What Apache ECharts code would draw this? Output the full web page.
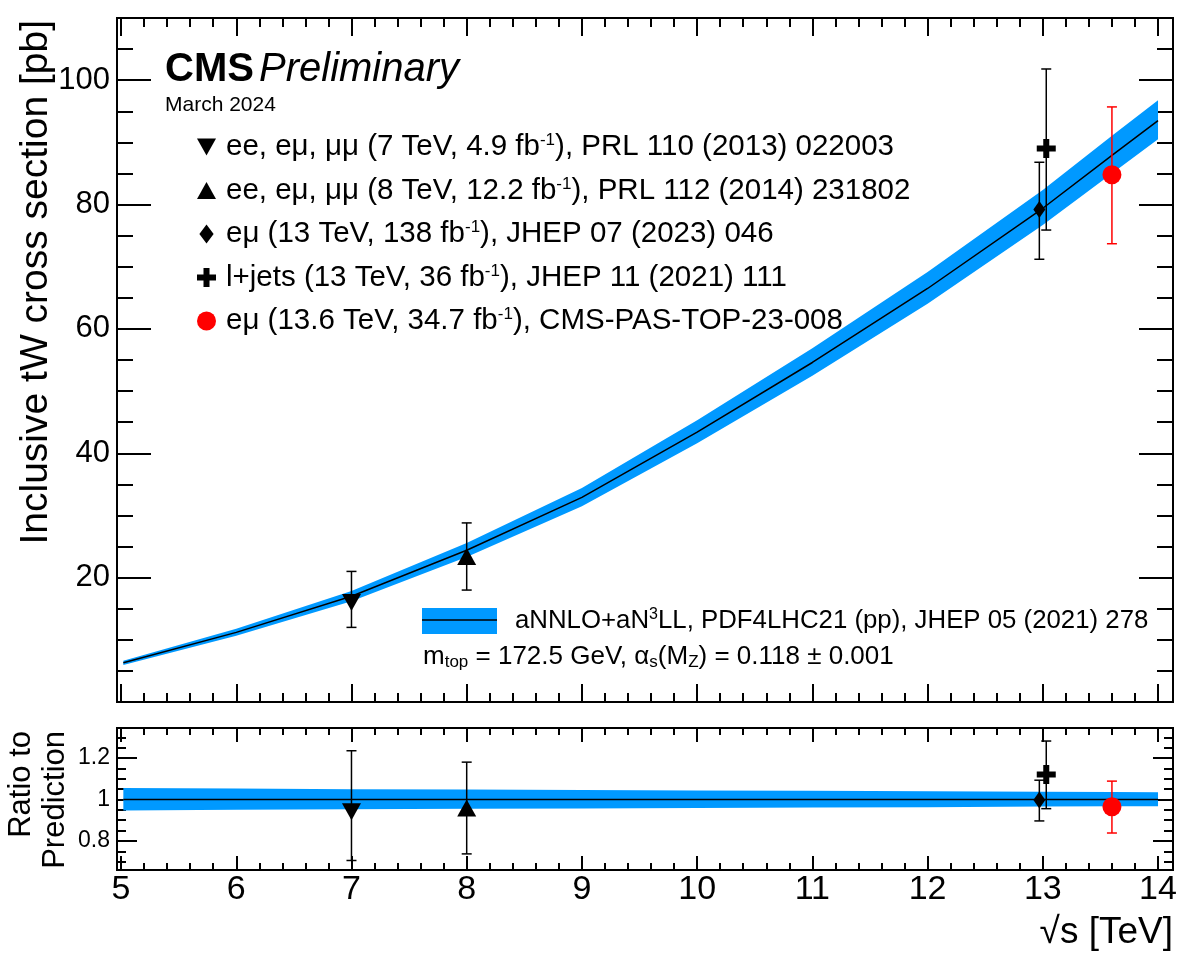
<!DOCTYPE html>
<html><head><meta charset="utf-8">
<script src="https://cdn.jsdelivr.net/npm/echarts@6/dist/echarts.min.js"></script>
<style>html,body{margin:0;padding:0;background:#fff}#c{width:1181px;height:961px}</style>
</head><body><div id="c"></div>
<script>
// ---------------- data ----------------
const theoryX   = [5.02, 6, 7, 8, 9, 10, 11, 12, 13, 13.6, 14];
const theoryY   = [6.3, 11.2, 17.0, 24.4, 32.9, 43.4, 54.6, 66.5, 79.4, 87.9, 93.5];
const theoryUp  = [0.35, 0.59, 0.85, 1.17, 1.51, 1.91, 2.29, 2.66, 2.94, 3.16, 3.27];
const theoryDn  = [0.33, 0.55, 0.79, 1.10, 1.41, 1.78, 2.13, 2.46, 2.70, 2.90, 2.99];
const theoryName = 'aNNLO+aN3LL, PDF4LHC21 (pp), JHEP 05 (2021) 278';

const measNames = [
  'ee, eμ, μμ (7 TeV, 4.9 fb-1), PRL 110 (2013) 022003',
  'ee, eμ, μμ (8 TeV, 12.2 fb-1), PRL 112 (2014) 231802',
  'eμ (13 TeV, 138 fb-1), JHEP 07 (2023) 046',
  'l+jets (13 TeV, 36 fb-1), JHEP 11 (2021) 111',
  'eμ (13.6 TeV, 34.7 fb-1), CMS-PAS-TOP-23-008'
];
const measX      = [7, 8, 12.97, 13.03, 13.6];
const measY      = [16, 23.4, 79.2, 89, 84.8];
const measErrUp  = [5, 5.4, 7.6, 12.8, 10.9];
const measErrDn  = [4, 5.4, 8.0, 13.1, 11.1];
const predAtMeas = [17.0, 24.4, 79.4, 79.4, 87.9];

const xMajorTicks = [5, 6, 7, 8, 9, 10, 11, 12, 13, 14];
const xTickLabels = [5, 6, 7, 8, 9, 10, 11, 12, 13, 14];
const yMajorTicks = [0, 20, 40, 60, 80, 100];
const yTickLabels = [20, 40, 60, 80, 100];
const rMajorTicks = [0.8, 1.0, 1.2];
const rTickLabels = [0.8, 1.0, 1.2];
const yMinorTicks = [5,10,15,25,30,35,45,50,55,65,70,75,85,90,95,105];
const rMinorTicks = [0.7,0.75,0.85,0.9,0.95,1.05,1.1,1.15,1.25,1.3];
const xMinorTicks = [];
for (let v = 5; v < 14; v++) for (let k = 1; k < 5; k++) xMinorTicks.push(+(v + k * 0.2).toFixed(1));

// ---------------- styles ----------------
const FONT = 'Liberation Sans';
const BAND = '#0099ff';
const markSymbols = ['path://M0,0L20,0L10,18Z', 'path://M10,0L20,18L0,18Z', 'path://M6,0L12,8L6,16L0,8Z',
  'path://M6.5,0H12.5V6.5H19V12.5H12.5V19H6.5V12.5H0V6.5H6.5Z', 'circle'];
const markSizes = [[19,17], [19,17], [12,17], 19, 19];
const markColors = ['#000', '#000', '#000', '#000', '#ff0000'];

const X_MIN = 4.965, X_MAX = 14.13;

function mkAxis(gridIndex, position, min, max, ticks, len, labelVals, labelSize, labelMargin) {
  return {
    type: 'value', gridIndex, position, min, max,
    axisLine: {show: true, onZero: false, lineStyle: {color: '#000', width: 2}},
    axisTick: {show: true, inside: true, length: len, customValues: ticks, lineStyle: {color: '#000', width: 2}},
    axisLabel: labelVals ? {show: true, customValues: labelVals, fontSize: labelSize, color: '#000',
      fontFamily: FONT, margin: labelMargin, formatter: v => String(+v.toFixed(2))} : {show: false},
    splitLine: {show: false}, minorTick: {show: false}, minorSplitLine: {show: false},
    splitArea: {show: false}, axisPointer: {show: false}, silent: true
  };
}

const xAxes = [
  mkAxis(0, 'bottom', X_MIN, X_MAX, xMajorTicks, 18),
  mkAxis(0, 'bottom', X_MIN, X_MAX, xMinorTicks, 9),
  mkAxis(0, 'top', X_MIN, X_MAX, xMajorTicks, 18),
  mkAxis(0, 'top', X_MIN, X_MAX, xMinorTicks, 9),
  mkAxis(1, 'bottom', X_MIN, X_MAX, xMajorTicks, 14, xTickLabels, 34, 3),
  mkAxis(1, 'bottom', X_MIN, X_MAX, xMinorTicks, 7),
  mkAxis(1, 'top', X_MIN, X_MAX, xMajorTicks, 14),
  mkAxis(1, 'top', X_MIN, X_MAX, xMinorTicks, 7)
];
const yAxes = [
  mkAxis(0, 'left', 0, 110, yMajorTicks, 34, yTickLabels, 31, 7),
  mkAxis(0, 'left', 0, 110, yMinorTicks, 16),
  mkAxis(0, 'right', 0, 110, yMajorTicks, 34),
  mkAxis(0, 'right', 0, 110, yMinorTicks, 16),
  mkAxis(1, 'left', 0.66, 1.345, rMajorTicks, 20, rTickLabels, 23, 7),
  mkAxis(1, 'left', 0.66, 1.345, rMinorTicks, 9),
  mkAxis(1, 'right', 0.66, 1.345, rMajorTicks, 20),
  mkAxis(1, 'right', 0.66, 1.345, rMinorTicks, 9)
];

function bandSeries(xi, yi, lo, hi, name) {
  const data = theoryX.map((x, i) => [x, lo[i], hi[i]]);
  return {
    type: 'custom', name, xAxisIndex: xi, yAxisIndex: yi, data,
    encode: {x: 0, y: [1, 2]}, itemStyle: {color: BAND}, z: 1, silent: true,
    renderItem(params, api) {
      if (params.dataIndex !== 0) return null;
      const up = [], dn = [];
      for (let i = 0; i < data.length; i++) {
        up.push(api.coord([data[i][0], data[i][2]]));
        dn.push(api.coord([data[i][0], data[i][1]]));
      }
      return {type: 'polygon', shape: {points: up.concat(dn.reverse())}, style: {fill: BAND}};
    }
  };
}
function lineSeries(xi, yi, ys, name) {
  return {type: 'line', name, xAxisIndex: xi, yAxisIndex: yi, data: theoryX.map((x, i) => [x, ys[i]]),
    symbol: 'none', showSymbol: false, lineStyle: {color: '#000', width: 1.5}, itemStyle: {color: '#000'},
    z: 2, silent: true};
}
function errSeries(xi, yi, data) {
  return {
    type: 'custom', xAxisIndex: xi, yAxisIndex: yi, data, encode: {x: 0, y: [1, 2]}, z: 3, silent: true,
    renderItem(params, api) {
      const x = api.value(0);
      const pLo = api.coord([x, api.value(1)]), pHi = api.coord([x, api.value(2)]);
      const col = markColors[api.value(3)];
      const st = {stroke: col, lineWidth: 1.5};
      const hw = 5;
      return {type: 'group', children: [
        {type: 'line', shape: {x1: pLo[0], y1: pLo[1], x2: pHi[0], y2: pHi[1]}, style: st},
        {type: 'line', shape: {x1: pLo[0] - hw, y1: pLo[1], x2: pLo[0] + hw, y2: pLo[1]}, style: st},
        {type: 'line', shape: {x1: pHi[0] - hw, y1: pHi[1], x2: pHi[0] + hw, y2: pHi[1]}, style: st}
      ]};
    }
  };
}

const series = [];
// top panel
series.push(bandSeries(0, 0, theoryY.map((c, i) => c - theoryDn[i]), theoryY.map((c, i) => c + theoryUp[i]), theoryName));
series.push(lineSeries(0, 0, theoryY, 'theory central'));
series.push(errSeries(0, 0, measX.map((x, i) => [x, measY[i] - measErrDn[i], measY[i] + measErrUp[i], i])));
measX.forEach((x, i) => series.push({
  type: 'scatter', name: measNames[i], xAxisIndex: 0, yAxisIndex: 0, data: [[x, measY[i]]],
  symbol: markSymbols[i], symbolSize: markSizes[i], itemStyle: {color: markColors[i], opacity: 1}, z: 4, silent: true
}));
// ratio panel
series.push(bandSeries(4, 4, theoryY.map((c, i) => 1 - theoryDn[i] / c), theoryY.map((c, i) => 1 + theoryUp[i] / c), 'ratio band'));
series.push(lineSeries(4, 4, theoryY.map(c => c / c), 'ratio central'));
series.push(errSeries(4, 4, measX.map((x, i) => [x, (measY[i] - measErrDn[i]) / predAtMeas[i], (measY[i] + measErrUp[i]) / predAtMeas[i], i])));
measX.forEach((x, i) => series.push({
  type: 'scatter', name: measNames[i], xAxisIndex: 4, yAxisIndex: 4, data: [[x, measY[i] / predAtMeas[i]]],
  symbol: markSymbols[i], symbolSize: markSizes[i], itemStyle: {color: markColors[i], opacity: 1}, z: 4, silent: true
}));

const option = {
  animation: false,
  backgroundColor: '#fff',
  textStyle: {fontFamily: FONT},
  grid: [
    {left: 117, right: 8, top: 18, height: 684, show: false},
    {left: 117, right: 8, top: 728, height: 142, show: false}
  ],
  xAxis: xAxes,
  yAxis: yAxes,
  legend: [
    {
      orient: 'vertical', left: 197, top: 132, padding: 0, itemWidth: 19, itemHeight: 19, itemGap: 13.5,
      selectedMode: false, symbolKeepAspect: true,
      data: measNames.map((n, i) => ({name: n, icon: markSymbols[i]})),
      formatter: n => n.replace('fb-1', 'fb{sup|-1}'),
      textStyle: {fontSize: 29.5, fontFamily: FONT, color: '#000', lineHeight: 30, padding: [0, 0, 0, 5],
        rich: {sup: {fontSize: 17, fontFamily: FONT, color: '#000', verticalAlign: 'top', lineHeight: 18}}}
    },
    {
      orient: 'vertical', left: 422, top: 607, padding: 0, itemWidth: 75, itemHeight: 26, selectedMode: false,
      data: [{name: theoryName, icon: 'rect'}],
      formatter: n => n.replace('aN3LL', 'aN{sup|3}LL'),
      textStyle: {fontSize: 25.8, fontFamily: FONT, color: '#000', lineHeight: 28, padding: [0, 0, 0, 13],
        rich: {sup: {fontSize: 16, fontFamily: FONT, color: '#000', verticalAlign: 'top', lineHeight: 16}}}
    },
    {
      orient: 'vertical', left: 422, top: 619, padding: 0, itemWidth: 75, itemHeight: 2, selectedMode: false, z: 6,
      data: [{name: 'theory central', icon: 'path://M0,0H75V1.5H0Z'}],
      formatter: () => '', textStyle: {fontSize: 2}
    }
  ],
  graphic: [
    {type: 'text', x: 165, y: 70, style: {text: 'CMS', fontFamily: FONT, fontWeight: 'bold', fontSize: 40, fill: '#000', align: 'left', verticalAlign: 'middle'}},
    {type: 'text', x: 259, y: 70, style: {text: 'Preliminary', fontFamily: FONT, fontStyle: 'italic', fontSize: 40, fill: '#000', align: 'left', verticalAlign: 'middle'}},
    {type: 'text', x: 165, y: 105, style: {text: 'March 2024', fontFamily: FONT, fontSize: 21, fill: '#000', align: 'left', verticalAlign: 'middle'}},
    {type: 'text', x: 423, y: 657, style: {
      text: 'm{sub|top} = 172.5 GeV, α{sub|s}(M{sub|Z}) = 0.118 ± 0.001',
      fontFamily: FONT, fontSize: 26, fill: '#000', align: 'left', verticalAlign: 'middle', lineHeight: 28,
      rich: {sub: {fontSize: 17, fontFamily: FONT, fill: '#000', verticalAlign: 'bottom', lineHeight: 8}}}},
    {type: 'text', x: 36, y: 20, rotation: Math.PI / 2, style: {text: 'Inclusive tW cross section [pb]', fontFamily: FONT, fontSize: 39, fill: '#000', align: 'right', verticalAlign: 'middle'}},
    {type: 'text', x: 38, y: 731, rotation: Math.PI / 2, style: {text: 'Ratio to\nPrediction', fontFamily: FONT, fontSize: 31, lineHeight: 34, fill: '#000', align: 'right', verticalAlign: 'middle'}},
    {type: 'text', x: 1173, y: 933, style: {text: '√s [TeV]', fontFamily: FONT, fontSize: 37, fill: '#000', align: 'right', verticalAlign: 'middle'}}
  ],
  series
};
const chart = echarts.init(document.getElementById('c'), null, {renderer: 'canvas'});
chart.setOption(option);
</script>
</body></html>
